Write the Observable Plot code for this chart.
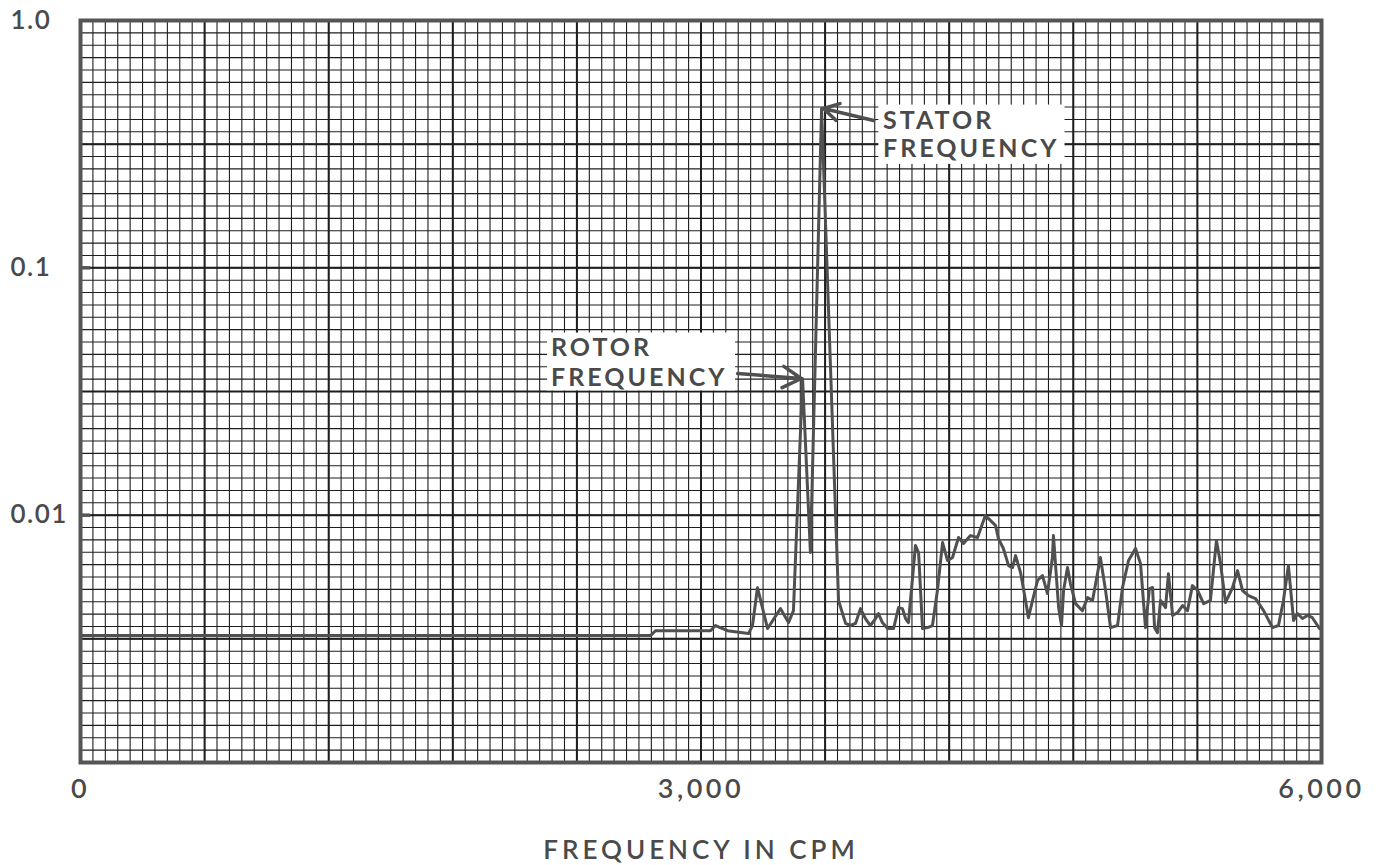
<!DOCTYPE html>
<html>
<head>
<meta charset="utf-8">
<script src="https://cdn.jsdelivr.net/npm/d3@7"></script>
<script src="https://cdn.jsdelivr.net/npm/@observablehq/plot@0.6"></script>
<style>
  html, body { margin: 0; padding: 0; background: #fff; }
  #chart svg { display: block; }
</style>
</head>
<body>
<div id="chart"></div>
<script>
// Frequency (CPM) and vibration amplitude
const freqCPM = [0, 2756, 2780, 3046, 3070, 3128, 3230, 3249, 3273, 3322, 3384, 3423, 3447, 3491, 3529, 3583, 3665,
  3699, 3723, 3747, 3771, 3795, 3819, 3844, 3858, 3877, 3902, 3931, 3955, 3974, 3989, 4003, 4037, 4052, 4071, 4095,
  4119, 4143, 4168, 4192, 4216, 4245, 4269, 4303, 4337, 4361, 4375, 4400, 4424, 4438, 4462, 4487, 4506, 4521, 4545,
  4569, 4583, 4603, 4627, 4651, 4675, 4699, 4704, 4729, 4743, 4753, 4772, 4786, 4811, 4844, 4869, 4893, 4931, 4956,
  4980, 5014, 5038, 5067, 5101, 5125, 5149, 5168, 5183, 5193, 5207, 5222, 5246, 5260, 5280, 5304, 5328, 5352, 5376,
  5401, 5430, 5463, 5492, 5512, 5536, 5570, 5594, 5618, 5647, 5681, 5720, 5763, 5792, 5816, 5840, 5865, 5884, 5908,
  5932, 5956, 5990];
const amplitude = [0.00326, 0.00326, 0.00341, 0.00341, 0.00358, 0.00341, 0.00332, 0.00358, 0.00509, 0.00348, 0.00419,
  0.00368, 0.00411, 0.0357, 0.00706, 0.441, 0.00452,
  0.00365, 0.00358, 0.00365, 0.00419, 0.00382, 0.00358, 0.00382, 0.00400, 0.00368, 0.00348, 0.00348, 0.00423, 0.00419,
  0.00382, 0.00368, 0.00754, 0.00706, 0.00348, 0.00351,
  0.00358, 0.00496, 0.00775, 0.00655, 0.00674, 0.00812, 0.00768, 0.00827, 0.00812, 0.00925, 0.00996, 0.00951, 0.00908,
  0.00804, 0.00733, 0.00625, 0.00614, 0.00686, 0.00586,
  0.00452, 0.00385, 0.00452, 0.00544, 0.00570, 0.00482, 0.00674, 0.00827, 0.00423, 0.00358, 0.00496, 0.00614, 0.00529,
  0.00439, 0.00411, 0.00464, 0.00452, 0.00674, 0.00496,
  0.00351, 0.00358, 0.00510, 0.00655, 0.00733, 0.00637, 0.00351, 0.00505, 0.00510, 0.00351, 0.00335, 0.00452, 0.00423,
  0.00580, 0.00393, 0.00404, 0.00431, 0.00411, 0.00519,
  0.00496, 0.00439, 0.00452, 0.00789, 0.00637, 0.00443, 0.00510, 0.00597, 0.00496, 0.00473, 0.00460, 0.00411, 0.00351,
  0.00358, 0.00452, 0.00625, 0.00375, 0.00400, 0.00382,
  0.00393, 0.00385, 0.00348];

const yTicks = [1, 0.1, 0.01];
const yTickLabels = ["1.0", "0.1", "0.01"];
const xTicks = [0, 3000, 6000];
const xTickLabels = ["0", "3,000", "6,000"];
const xTitle = "FREQUENCY IN CPM";

// annotation labels
const annLabels = [
  {lines: ["STATOR", "FREQUENCY"], x: 3880, y: [0.394, 0.3037], box: [3860, 4760, 0.455, 0.262], from: [3835, 0.394], to: [3592, 0.441]},
  {lines: ["ROTOR", "FREQUENCY"], x: 2275, y: [0.0472, 0.0360], box: [2258, 3167, 0.0545, 0.0318], from: [3177, 0.0374], to: [3485, 0.0357]}
];

const data = freqCPM.map((f, i) => ({f, a: amplitude[i]}));

// graph paper: 100 columns x 60 rows (20 rows per decade)
const minorX = d3.range(0, 101).map(k => k * 60);
const majorX = minorX.filter((_, k) => k % 10 === 0);
const minorY = d3.range(0, 61).map(k => Math.pow(10, -k / 20));
const majorY = minorY.filter((_, k) => k % 10 === 0);

const font = "Lato, 'Open Sans', sans-serif";
const ink = "#4a4a4a";

const textRows = [];
annLabels.forEach(a => a.lines.forEach((t, i) => textRows.push({t, x: a.x, y: a.y[i]})));

const chart = Plot.plot({
  width: 1376,
  height: 865,
  marginLeft: 80,
  marginRight: 55,
  marginTop: 20,
  marginBottom: 103,
  style: {fontFamily: font, background: "#fff"},
  x: {domain: [0, 6000], axis: null},
  y: {type: "log", domain: [0.001, 1], axis: null},
  marks: [
    Plot.ruleX(minorX, {stroke: "#1e1e1e", strokeWidth: 1.1}),
    Plot.ruleY(minorY, {stroke: "#1e1e1e", strokeWidth: 1.1}),
    Plot.ruleX(majorX, {stroke: "#1e1e1e", strokeWidth: 2}),
    Plot.ruleY(majorY, {stroke: "#1e1e1e", strokeWidth: 2}),
    Plot.rect(annLabels, {x1: d => d.box[0], x2: d => d.box[1], y1: d => d.box[2], y2: d => d.box[3], fill: "#fff"}),
    Plot.line(data, {x: "f", y: "a", stroke: "#505050", strokeWidth: 3, strokeLinejoin: "round"}),
    Plot.frame({stroke: "#555", strokeWidth: 4}),
    Plot.ruleY(yTicks.slice(1), {y: d => d, x1: 0, x2: 50, stroke: "#555", strokeWidth: 3.5}),
    Plot.arrow(annLabels, {x1: d => d.from[0], y1: d => d.from[1], x2: d => d.to[0], y2: d => d.to[1],
      stroke: "#505050", strokeWidth: 3.5, headLength: 14}),
    Plot.text(textRows, {x: "x", y: "y", text: "t", textAnchor: "start", lineAnchor: "middle", fontSize: 25,
      fontWeight: 700, fill: ink}),
    Plot.text(yTicks, {y: d => d, text: (d, i) => yTickLabels[i], frameAnchor: "left", dx: -70,
      textAnchor: "start", lineAnchor: "middle", fontSize: 26, fontWeight: 600, fill: ink}),
    Plot.text(xTicks, {x: d => d, text: (d, i) => xTickLabels[i], frameAnchor: "bottom", dy: 27,
      lineAnchor: "middle", fontSize: 27, fontWeight: 600, fill: ink}),
    Plot.text([xTitle], {frameAnchor: "bottom", dy: 88, text: d => d, lineAnchor: "middle", fontSize: 26,
      fontWeight: 600, fill: ink})
  ]
});

// letter spacing for the text groups (annotations, y labels, x labels, title)
const spacing = ["3px", "1.5px", "3.5px", "4px"];
d3.select(chart).selectAll('g[aria-label="text"]').each(function(_, i) {
  this.setAttribute("letter-spacing", spacing[i] || "0px");
});

document.getElementById("chart").appendChild(chart);
</script>
</body>
</html>
